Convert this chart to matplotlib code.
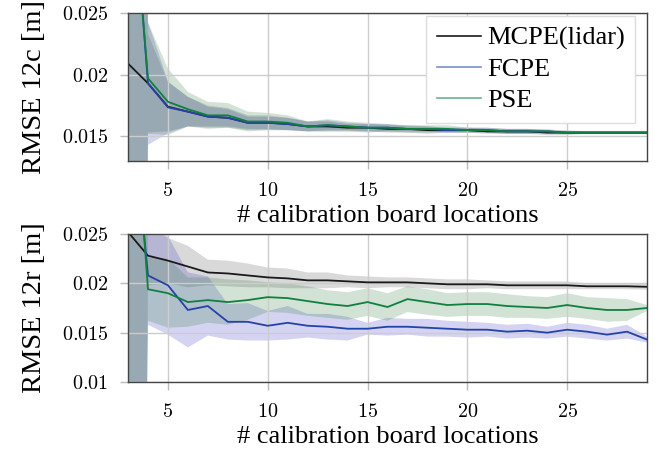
import numpy as np
import matplotlib
matplotlib.use("Agg")
import matplotlib.pyplot as plt
from matplotlib.lines import Line2D
from matplotlib.ticker import FuncFormatter

plt.rcParams['font.family'] = ['Liberation Serif', 'DejaVu Serif']
plt.rcParams['mathtext.fontset'] = 'cm'

x = np.arange(3, 30)

# RMSE 12c
mcpe_12c = [0.0209, 0.0193, 0.0174, 0.0170, 0.0166, 0.0165, 0.0161, 0.0161, 0.0160, 0.0158, 0.0158, 0.0157, 0.0157,
            0.0156, 0.0156, 0.0155, 0.0155, 0.0155, 0.0154, 0.0154, 0.0154, 0.0153, 0.0153, 0.0153, 0.0153, 0.0153, 0.0153]
fcpe_12c = [0.0404, 0.0193, 0.01735, 0.0170, 0.0166, 0.0165, 0.0161, 0.0161, 0.0160, 0.0158, 0.0159, 0.0158, 0.0157,
            0.0157, 0.0156, 0.0156, 0.0155, 0.0155, 0.0155, 0.0154, 0.0154, 0.0154, 0.0153, 0.0153, 0.0153, 0.0153, 0.0153]
pse_12c = [0.0393, 0.0197, 0.0178, 0.0172, 0.0167, 0.0167, 0.0162, 0.0162, 0.0161, 0.0158, 0.0159, 0.0158, 0.0157,
           0.0157, 0.0156, 0.0156, 0.0156, 0.0155, 0.0155, 0.0154, 0.0154, 0.0154, 0.0153, 0.0153, 0.0153, 0.0153, 0.0153]
mcpe_12c_sd = [0.2, 0.0040, 0.0020, 0.0012, 0.0009, 0.0008, 0.0006, 0.0006, 0.0005, 0.0004, 0.0004, 0.0003, 0.0003,
               0.0003, 0.0003, 0.0003, 0.0002, 0.0002, 0.0002, 0.0002, 0.0002, 0.0002, 0.0002, 0.0001, 0.0001, 0.0001, 0.0001]
fcpe_12c_sd = [0.2, 0.0050, 0.0021, 0.0012, 0.0008, 0.0007, 0.0005, 0.0005, 0.0005, 0.0004, 0.0004, 0.0003, 0.0003,
               0.0003, 0.0002, 0.0002, 0.0002, 0.0002, 0.0002, 0.0002, 0.0002, 0.0001, 0.0001, 0.0001, 0.0001, 0.0001, 0.0001]
pse_12c_sd = [0.2, 0.0045, 0.0027, 0.0014, 0.0011, 0.0010, 0.0008, 0.0007, 0.0006, 0.0004, 0.0005, 0.0004, 0.0004,
              0.0003, 0.0003, 0.0003, 0.0003, 0.0002, 0.0002, 0.0002, 0.0002, 0.0002, 0.0001, 0.0001, 0.0001, 0.0001, 0.0001]

# RMSE 12r
mcpe_12r = [0.0252, 0.0228, 0.0223, 0.0217, 0.0211, 0.0210, 0.0208, 0.0206, 0.0205, 0.0203, 0.0203, 0.0202, 0.0201,
            0.0201, 0.0201, 0.0200, 0.0199, 0.0199, 0.0199, 0.0198, 0.0198, 0.0198, 0.0198, 0.0197, 0.0197, 0.0197, 0.01965]
fcpe_12r = [0.0418, 0.0208, 0.0198, 0.0173, 0.0177, 0.0161, 0.0161, 0.0157, 0.0160, 0.0157, 0.0156, 0.0154, 0.0154,
            0.0156, 0.0156, 0.0155, 0.0154, 0.0153, 0.0153, 0.0151, 0.0152, 0.0150, 0.0153, 0.0151, 0.0148, 0.0151, 0.0143]
pse_12r = [0.0474, 0.0194, 0.0190, 0.0181, 0.0183, 0.0181, 0.0183, 0.0186, 0.0185, 0.0182, 0.0179, 0.0177, 0.0181,
           0.0176, 0.0184, 0.0181, 0.0178, 0.0179, 0.0179, 0.0177, 0.0176, 0.0175, 0.0178, 0.0175, 0.0173, 0.0173, 0.0175]
mcpe_12r_sd = [0.2, 0.0030, 0.0023, 0.0021, 0.0013, 0.0013, 0.0012, 0.0010, 0.0010, 0.0008, 0.0008, 0.0006, 0.0006,
               0.0005, 0.0005, 0.0005, 0.0005, 0.0005, 0.0004, 0.0004, 0.0004, 0.0004, 0.0004, 0.0003, 0.0003, 0.0003, 0.0003]
fcpe_12r_sd = [0.2, 0.0050, 0.0050, 0.0038, 0.0030, 0.0018, 0.0019, 0.0015, 0.0017, 0.0012, 0.0013, 0.0012, 0.0006,
               0.0009, 0.0008, 0.0009, 0.0008, 0.0008, 0.0007, 0.0007, 0.0007, 0.0006, 0.0007, 0.0007, 0.0006, 0.0007, 0.0003]
pse_12r_sd = [0.2, 0.0032, 0.0035, 0.0025, 0.0023, 0.0023, 0.0020, 0.0015, 0.0015, 0.0015, 0.0014, 0.0014, 0.0014,
              0.0014, 0.0013, 0.0013, 0.0012, 0.0012, 0.0012, 0.0012, 0.0011, 0.0011, 0.0012, 0.0011, 0.0012, 0.0011, 0.0003]

labels = ['MCPE(lidar)', 'FCPE', 'PSE']
line_colors = ['#1a1a1a', '#2442a8', '#0f8040']
fill_colors = ['#505050', '#3434c4', '#2c7a3c']


def draw(ax, means, sds, ylabel, ylim, yticks):
    for m, s, fc in zip(means, sds, fill_colors):
        m = np.array(m)
        s = np.array(s)
        ax.fill_between(x, m - s, m + s, color=fc, alpha=0.21, lw=0)
    for m, lc in zip(means, line_colors):
        ax.plot(x, m, color=lc, lw=1.3)
    ax.set_xlim(3, 29)
    ax.set_ylim(*ylim)
    ax.set_xticks([5, 10, 15, 20, 25])
    ax.set_yticks(yticks)
    ax.xaxis.set_major_formatter(FuncFormatter(lambda v, p: f'${v:g}$'))
    ax.yaxis.set_major_formatter(FuncFormatter(lambda v, p: f'${v:g}$'))
    ax.grid(True, color='#cccccc', lw=1)
    ax.tick_params(direction='out', length=6, width=1, color='#bbbbbb', labelsize=14.5)
    ax.tick_params(axis='x', pad=9)
    ax.tick_params(axis='y', pad=8)
    for sp in ax.spines.values():
        sp.set_color('#444444')
        sp.set_linewidth(1.0)
    ax.set_ylabel(ylabel, fontsize=20.5, labelpad=11)
    ax.set_xlabel('# calibration board locations', fontsize=19, labelpad=3)


fig = plt.figure(figsize=(6.64, 4.54), dpi=100)
ax1 = fig.add_axes([0.1928, 0.6454, 0.7816, 0.326])
ax2 = fig.add_axes([0.1928, 0.1586, 0.7816, 0.326])

draw(ax1, [mcpe_12c, fcpe_12c, pse_12c], [mcpe_12c_sd, fcpe_12c_sd, pse_12c_sd],
     'RMSE 12c [m]', (0.013, 0.025), [0.015, 0.02, 0.025])
draw(ax2, [mcpe_12r, fcpe_12r, pse_12r], [mcpe_12r_sd, fcpe_12r_sd, pse_12r_sd],
     'RMSE 12r [m]', (0.01, 0.025), [0.01, 0.015, 0.02, 0.025])

handles = [Line2D([], [], color=c, lw=1.2, alpha=a) for c, a in zip(line_colors, [1.0, 0.6, 0.6])]
leg = ax1.legend(handles, labels, loc='upper right', bbox_to_anchor=(0.977, 0.98), fontsize=19,
                 frameon=True, fancybox=False, framealpha=1, edgecolor='#dddddd', borderaxespad=0,
                 handlelength=1.7, handletextpad=0.2, borderpad=0.4, labelspacing=0.28)
leg.get_frame().set_linewidth(1.0)

fig.savefig('out.png', dpi=100)
